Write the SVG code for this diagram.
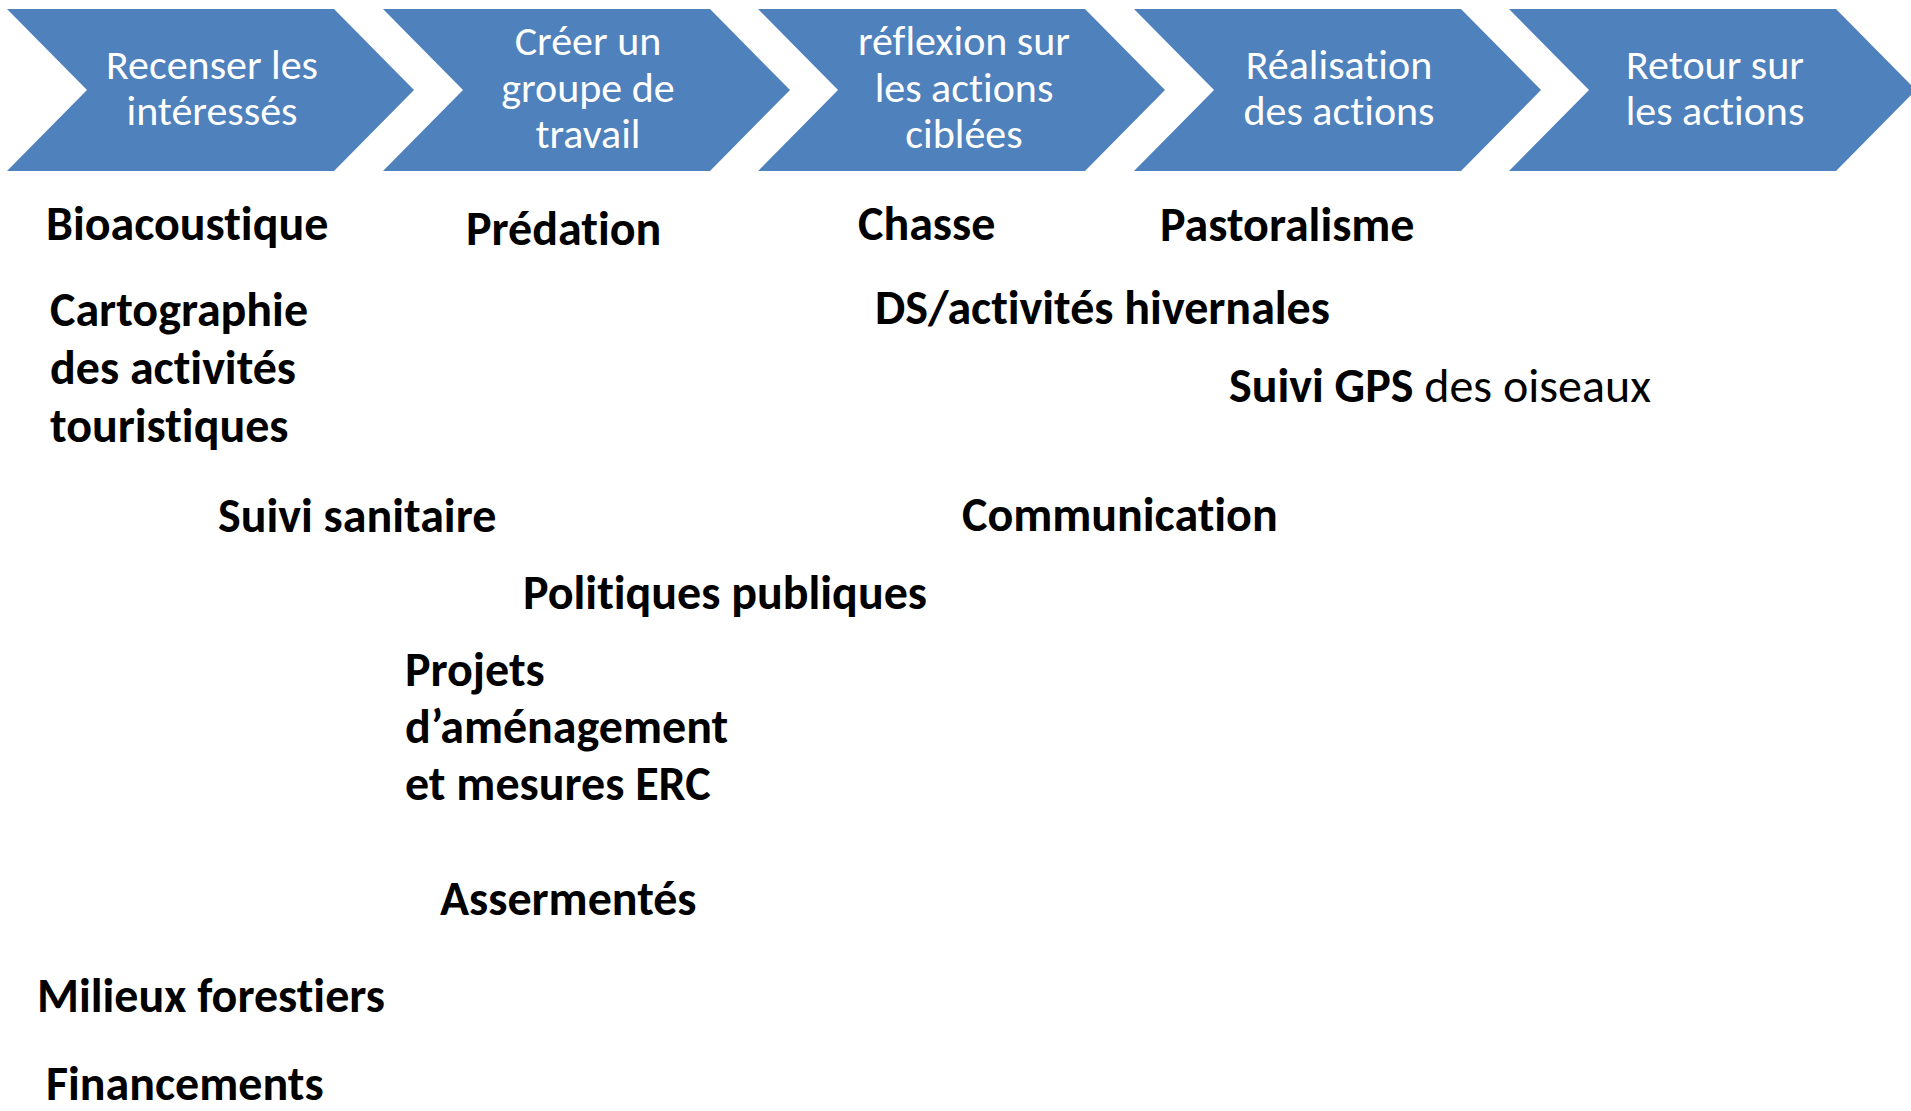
<svg xmlns="http://www.w3.org/2000/svg" width="1911" height="1111" viewBox="0 0 1911 1111">
<style>
.chev{fill:#4F81BD;}
.ct{font-family:Carlito,Calibri,Lato,"Liberation Sans",sans-serif;font-size:42px;fill:#FFFFFF;text-anchor:middle;font-variant-ligatures:none;}
.lb{font-family:Carlito,Calibri,Lato,"Liberation Sans",sans-serif;font-size:48px;font-weight:bold;fill:#000000;font-variant-ligatures:none;}
.rg{font-weight:normal;}
</style>
<rect x="0" y="0" width="1911" height="1111" fill="#FFFFFF"/>
<g id="steps">
<g id="step1">
<polygon class="chev" points="7,9 334,9 414,90 334,171 7,171 87,90"/>
<text class="ct" x="212" y="79">Recenser les</text>
<text class="ct" x="212" y="125">intéressés</text>
</g>
<g id="step2">
<polygon class="chev" points="383,9 710,9 790,90 710,171 383,171 463,90"/>
<text class="ct" x="588" y="55">Créer un</text>
<text class="ct" x="588" y="102">groupe de</text>
<text class="ct" x="588" y="148">travail</text>
</g>
<g id="step3">
<polygon class="chev" points="758,9 1085,9 1165,90 1085,171 758,171 838,90"/>
<text class="ct" x="964" y="55">réflexion sur</text>
<text class="ct" x="964" y="102">les actions</text>
<text class="ct" x="964" y="148">ciblées</text>
</g>
<g id="step4">
<polygon class="chev" points="1134,9 1461,9 1541,90 1461,171 1134,171 1214,90"/>
<text class="ct" x="1339" y="79">Réalisation</text>
<text class="ct" x="1339" y="125">des actions</text>
</g>
<g id="step5">
<polygon class="chev" points="1509,9 1836,9 1916,90 1836,171 1509,171 1589,90"/>
<text class="ct" x="1715" y="79">Retour sur</text>
<text class="ct" x="1715" y="125">les actions</text>
</g>
</g>
<g id="topics">
<g id="bioacoustique"><text class="lb" x="46" y="240">Bioacoustique</text></g>
<g id="predation"><text class="lb" x="466" y="245">Prédation</text></g>
<g id="chasse"><text class="lb" x="858" y="240">Chasse</text></g>
<g id="pastoralisme"><text class="lb" x="1160" y="241">Pastoralisme</text></g>
<g id="cartographie">
<text class="lb" x="50" y="326">Cartographie</text>
<text class="lb" x="50" y="384">des activités</text>
<text class="lb" x="50" y="442">touristiques</text>
</g>
<g id="ds-hivernales"><text class="lb" x="875" y="324">DS/activités hivernales</text></g>
<g id="suivi-gps"><text class="lb" x="1229" y="402">Suivi GPS<tspan class="rg"> des oiseaux</tspan></text></g>
<g id="suivi-sanitaire"><text class="lb" x="218" y="532">Suivi sanitaire</text></g>
<g id="communication"><text class="lb" x="962" y="531">Communication</text></g>
<g id="politiques"><text class="lb" x="523" y="609">Politiques publiques</text></g>
<g id="projets">
<text class="lb" x="405" y="686">Projets</text>
<text class="lb" x="405" y="743">d’aménagement</text>
<text class="lb" x="405" y="800">et mesures ERC</text>
</g>
<g id="assermentes"><text class="lb" x="440" y="915">Assermentés</text></g>
<g id="milieux"><text class="lb" x="37" y="1012">Milieux forestiers</text></g>
<g id="financements"><text class="lb" x="46" y="1100">Financements</text></g>
</g>
<g id="connectors"></g>
</svg>
